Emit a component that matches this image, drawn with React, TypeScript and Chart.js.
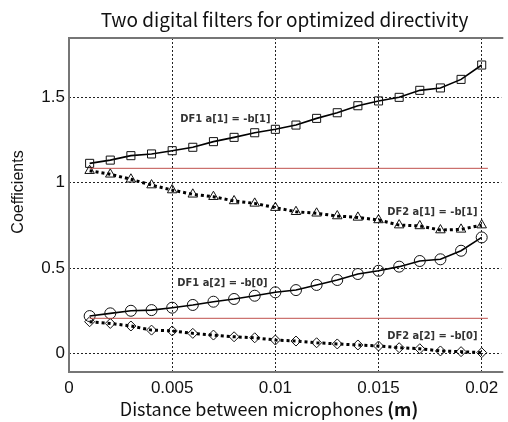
import React, { useEffect, useRef } from "react";
import { Chart, registerables } from "chart.js";
Chart.register(...registerables);

const xValues = [0.001, 0.002, 0.003, 0.004, 0.005, 0.006, 0.007, 0.008, 0.009, 0.01, 0.011, 0.012, 0.013, 0.014, 0.015, 0.016, 0.017, 0.018, 0.019, 0.02];
const df1A1 = [1.112, 1.131, 1.157, 1.167, 1.186, 1.206, 1.239, 1.264, 1.291, 1.311, 1.336, 1.375, 1.408, 1.449, 1.477, 1.498, 1.539, 1.553, 1.603, 1.687];
const df2A1 = [1.069, 1.048, 1.019, 0.985, 0.956, 0.931, 0.917, 0.892, 0.878, 0.853, 0.829, 0.82, 0.804, 0.796, 0.781, 0.751, 0.746, 0.722, 0.726, 0.751];
const df1A2 = [0.219, 0.235, 0.25, 0.254, 0.268, 0.284, 0.303, 0.319, 0.338, 0.358, 0.371, 0.401, 0.43, 0.465, 0.484, 0.508, 0.541, 0.551, 0.601, 0.679];
const df2A2 = [0.186, 0.176, 0.161, 0.137, 0.132, 0.118, 0.108, 0.098, 0.092, 0.079, 0.073, 0.063, 0.056, 0.05, 0.044, 0.034, 0.028, 0.015, 0.011, 0.005];
const refX = [0.001, 0.0203];
const refUpper = [1.083, 1.083];
const refLower = [0.206, 0.206];

const xTicks = [0, 0.005, 0.01, 0.015, 0.02];
const xTickLabels = ["0", "0.005", "0.01", "0.015", "0.02"];
const yTicks = [0, 0.5, 1, 1.5];
const yTickLabels = ["0", "0.5", "1", "1.5"];

const annotationTexts = ["DF1 a[1] = -b[1]", "DF2 a[1] = -b[1]", "DF1 a[2] = -b[0]", "DF2 a[2] = -b[0]"];
const annotationX = [0.00539, 0.01542, 0.00525, 0.01542];
const annotationY = [1.371, 0.827, 0.412, 0.102];

const titleText = "Two digital filters for optimized directivity";
const xLabelText = "Distance between microphones ";
const xLabelUnit = "(m)";
const yLabelText = "Coefficients";

const LABEL_FONT = "'Noto Sans CJK KR', 'Noto Sans', sans-serif";
const TICK_FONT = "'Liberation Sans', Arial, sans-serif";

const framePlugin = {
  id: "frame",
  beforeDatasetsDraw(chart: any) {
    const { ctx, chartArea } = chart;
    const { left, right, top, bottom } = chartArea;
    ctx.save();
    ctx.strokeStyle = "#767676";
    ctx.lineWidth = 2;
    ctx.beginPath();
    ctx.moveTo(right + 2, top);
    ctx.lineTo(left, top);
    ctx.lineTo(left, bottom);
    ctx.lineTo(right + 2, bottom);
    ctx.stroke();
    ctx.restore();
  },
  afterDatasetsDraw(chart: any) {
    const { ctx, scales } = chart;
    ctx.save();
    ctx.fillStyle = "#333333";
    ctx.font = "bold 11px 'DejaVu Sans Condensed', 'DejaVu Sans', sans-serif";
    ctx.textBaseline = "middle";
    ctx.textAlign = "left";
    annotationTexts.forEach((t, i) => {
      ctx.fillText(t, scales.x.getPixelForValue(annotationX[i]), scales.y.getPixelForValue(annotationY[i]));
    });
    ctx.restore();
  },
  afterDraw(chart: any) {
    const { ctx } = chart;
    ctx.save();
    ctx.fillStyle = "#111111";
    ctx.textBaseline = "alphabetic";
    ctx.textAlign = "center";
    ctx.font = `19px ${LABEL_FONT}`;
    ctx.fillText(titleText, 284.5, 27);

    ctx.font = `18px ${LABEL_FONT}`;
    const w1 = ctx.measureText(xLabelText).width;
    ctx.font = `bold 18px ${LABEL_FONT}`;
    const w2 = ctx.measureText(xLabelUnit).width;
    const startX = 269 - (w1 + w2) / 2;
    ctx.textAlign = "left";
    ctx.font = `18px ${LABEL_FONT}`;
    ctx.fillText(xLabelText, startX, 416);
    ctx.font = `bold 18px ${LABEL_FONT}`;
    ctx.fillText(xLabelUnit, startX + w1, 416);

    ctx.translate(19, 192);
    ctx.rotate(-Math.PI / 2);
    ctx.textAlign = "center";
    ctx.textBaseline = "middle";
    ctx.font = `16px ${TICK_FONT}`;
    ctx.fillText(yLabelText, 0, 0);
    ctx.restore();
  },
};

const toPoints = (xs: number[], ys: number[]) => ys.map((y, i) => ({ x: xs[i], y }));

export default function App() {
  const ref = useRef<HTMLCanvasElement>(null);
  useEffect(() => {
    document.body.style.margin = "0";
    const canvas = ref.current!;
    const markerCommon = {
      pointBackgroundColor: "rgba(0,0,0,0)",
      pointBorderColor: "#111111",
      pointBorderWidth: 1,
      tension: 0,
      fill: false,
    };
    const chart = new Chart(canvas, {
      type: "line",
      data: {
        datasets: [
          {
            data: toPoints(refX, refUpper),
            borderColor: "#c0504d",
            borderWidth: 1,
            pointRadius: 0,
            fill: false,
          },
          {
            data: toPoints(refX, refLower),
            borderColor: "#c0504d",
            borderWidth: 1,
            pointRadius: 0,
            fill: false,
          },
          {
            ...markerCommon,
            data: toPoints(xValues, df1A1),
            borderColor: "#000000",
            borderWidth: 1.6,
            pointStyle: "rect",
            pointRadius: 5.7,
          },
          {
            ...markerCommon,
            data: toPoints(xValues, df2A1),
            borderColor: "#000000",
            borderWidth: 3,
            borderDash: [3, 3],
            pointStyle: "triangle",
            pointRadius: 5.5,
          },
          {
            ...markerCommon,
            data: toPoints(xValues, df1A2),
            borderColor: "#000000",
            borderWidth: 1.6,
            pointStyle: "circle",
            pointRadius: 5.5,
          },
          {
            ...markerCommon,
            data: toPoints(xValues, df2A2),
            borderColor: "#000000",
            borderWidth: 3,
            borderDash: [3, 3],
            pointStyle: "rectRot",
            pointRadius: 5,
          },
        ],
      },
      options: {
        responsive: false,
        animation: false,
        events: [],
        layout: { padding: { top: 38, right: 0, left: 0, bottom: 0 } },
        plugins: { legend: { display: false }, tooltip: { enabled: false }, title: { display: false } },
        scales: {
          x: {
            type: "linear",
            min: 0,
            max: 0.02095,
            afterBuildTicks: (s: any) => {
              s.ticks = xTicks.map((v) => ({ value: v }));
            },
            afterFit: (s: any) => {
              s.height = 50;
            },
            ticks: {
              font: { family: TICK_FONT, size: 17 },
              color: "#111111",
              padding: 6,
              maxRotation: 0,
              autoSkip: false,
              callback: (v: any) => xTickLabels[xTicks.indexOf(Number(v))] ?? "",
            },
            grid: { color: "#222222", lineWidth: 1, drawTicks: false },
            border: { display: false, dash: [2, 2] },
          },
          y: {
            type: "linear",
            min: -0.108,
            max: 1.845,
            afterBuildTicks: (s: any) => {
              s.ticks = yTicks.map((v) => ({ value: v }));
            },
            afterFit: (s: any) => {
              s.width = 69;
            },
            ticks: {
              font: { family: TICK_FONT, size: 17 },
              color: "#111111",
              padding: 4,
              autoSkip: false,
              callback: (v: any) => yTickLabels[yTicks.indexOf(Number(v))] ?? "",
            },
            grid: { color: "#222222", lineWidth: 1, drawTicks: false },
            border: { display: false, dash: [2, 2] },
          },
        },
      },
      plugins: [framePlugin],
    });
    return () => chart.destroy();
  }, []);
  return <canvas ref={ref} width={508} height={422} style={{ display: "block" }} />;
}
